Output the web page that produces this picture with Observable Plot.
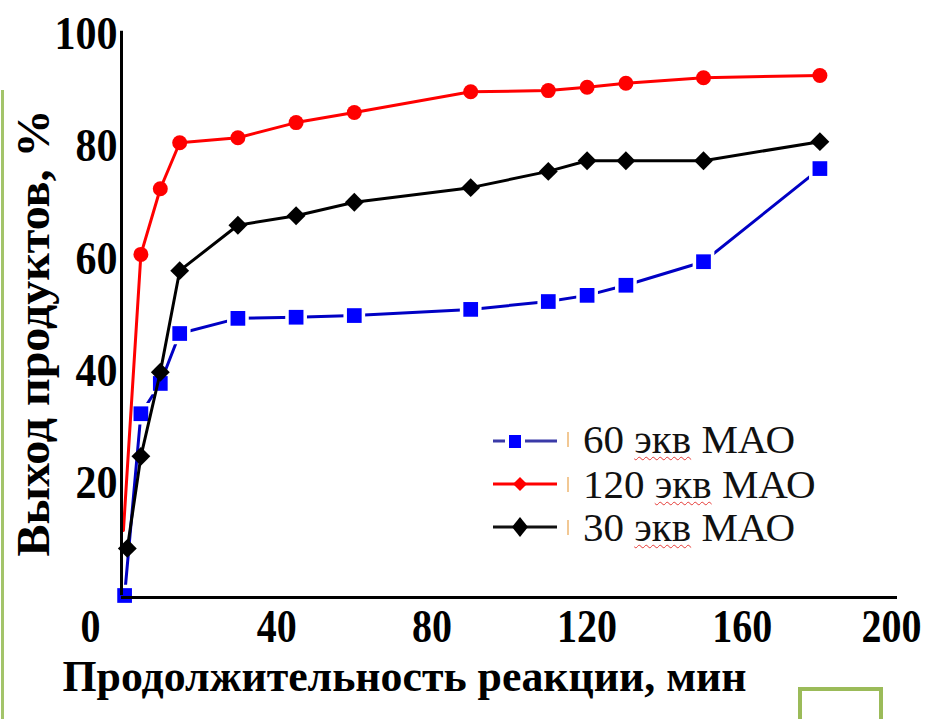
<!DOCTYPE html>
<html>
<head>
<meta charset="utf-8">
<script src="https://cdn.jsdelivr.net/npm/d3@7"></script>
<script src="https://cdn.jsdelivr.net/npm/@observablehq/plot@0.6"></script>
<style>
  html, body { margin: 0; padding: 0; background: #ffffff; overflow: hidden; }
  #wrap { position: relative; width: 933px; height: 719px; }
  .legrow { position: absolute; left: 490px; height: 44px; display: flex; align-items: center;
            font-family: "Liberation Serif", serif; font-size: 41px; color: #111; white-space: nowrap; }
  .legrow .tick { width: 2px; height: 15px; background: #f2c894; margin: 0 14px 0 2px; }
  .wavy { text-decoration: underline wavy #e53935; text-decoration-thickness: 1px; text-underline-offset: 3px; }
</style>
</head>
<body>
<div id="wrap"></div>
<script>
// ---- data ----
const blueT  = [0.8, 5, 10, 15, 30, 45, 60, 90, 110, 120, 130, 150, 180];
const blueV  = [0, 32.4, 37.8, 46.7, 49.4, 49.6, 49.9, 51.0, 52.4, 53.5, 55.3, 59.5, 76.1];
const redT   = [0.5, 5, 10, 15, 30, 45, 60, 90, 110, 120, 130, 150, 180];
const redV   = [11.6, 60.8, 72.5, 80.7, 81.6, 84.3, 86.1, 89.8, 90.0, 90.6, 91.3, 92.3, 92.7];
const blackT = [1.5, 5, 10, 15, 30, 45, 60, 90, 110, 120, 130, 150, 180];
const blackV = [8.4, 24.8, 39.8, 57.9, 66.0, 67.7, 70.1, 72.7, 75.6, 77.5, 77.5, 77.5, 80.9];

const seriesNames = ["60 экв МАО", "120 экв МАО", "30 экв МАО"];
const xTicks = [0, 40, 80, 120, 160, 200];
const yTicks = [20, 40, 60, 80, 100];
const xTitle = "Продолжительность реакции, мин";
const yTitle = "Выход продуктов, %";

const toRows = (T, V) => T.map((t, i) => ({t, v: V[i]}));
const blue = toRows(blueT, blueV);
const red = toRows(redT, redV);
const black = toRows(blackT, blackV);

const font = "'Liberation Serif', serif";

const chart = Plot.plot({
  width: 933,
  height: 719,
  marginLeft: 121,
  marginRight: 36,
  marginTop: 34,
  marginBottom: 124,
  x: {domain: [0, 200]},
  y: {domain: [0, 100]},
  style: {fontFamily: font, background: "transparent", color: "#000"},
  marks: [
    Plot.axisY(yTicks, {tickSize: 0, tickPadding: 4, fontSize: 46, fontWeight: "bold", label: null}),
    Plot.axisX(xTicks.slice(1, -1), {tickSize: 0, tickPadding: 14, fontSize: 46, fontWeight: "bold", label: null}),
    Plot.axisX(xTicks.slice(-1), {tickSize: 0, tickPadding: 14, fontSize: 46, fontWeight: "bold", label: null, dx: -6}),
    Plot.axisX(xTicks.slice(0, 1), {tickSize: 0, tickPadding: 14, fontSize: 46, fontWeight: "bold", label: null, dx: -31}),
    // blue (60 экв)
    Plot.line(blue, {x: "t", y: "v", stroke: "#0000c4", strokeWidth: 3}),
    Plot.dot(blue, {x: "t", y: "v", symbol: "square", r: 8.3, fill: "#0000ff", stroke: "#ffffff", strokeWidth: 7, paintOrder: "stroke"}),
    // red (120 экв)
    Plot.line(red, {x: "t", y: "v", stroke: "#ff0000", strokeWidth: 3}),
    Plot.dot(red.slice(1), {x: "t", y: "v", r: 7.5, fill: "#ff0000", stroke: "none"}),
    // black (30 экв)
    Plot.line(black, {x: "t", y: "v", stroke: "#000000", strokeWidth: 3}),
    Plot.dot(black, {x: "t", y: "v", symbol: "diamond2", r: 8.5, fill: "#000000", stroke: "none"}),
    // axis lines
    Plot.ruleX([0], {y1: 0, y2: 100.6, strokeWidth: 3, stroke: "#000"}),
    Plot.ruleY([0], {strokeWidth: 3, stroke: "#000", dy: 2}),
    // titles
    Plot.text([xTitle], {frameAnchor: "bottom-left", text: d => d, textAnchor: "start", lineAnchor: "bottom",
      dx: -59, dy: 95, fontSize: 44, fontWeight: "bold", fill: "#000"}),
    Plot.text([yTitle], {frameAnchor: "left", text: d => d, rotate: -90, textAnchor: "middle", lineAnchor: "middle",
      dx: -87, dy: 18, fontSize: 46, fontWeight: "bold", fill: "#000"})
  ]
});

const wrap = document.getElementById("wrap");
wrap.appendChild(chart);

// condensed tick labels & title widths
const sel = d3.select(chart);
sel.selectAll('g[aria-label="y-axis tick label"] text').each(function() {
  this.setAttribute("textLength", this.textContent.length * 21);
  this.setAttribute("lengthAdjust", "spacingAndGlyphs");
});
sel.selectAll('g[aria-label="x-axis tick label"] text').each(function() {
  this.setAttribute("textLength", this.textContent.length * 20);
  this.setAttribute("lengthAdjust", "spacingAndGlyphs");
});
sel.selectAll('g[aria-label="text"] text').each(function() {
  const s = this.textContent;
  if (s === xTitle) { this.setAttribute("textLength", 684); this.setAttribute("lengthAdjust", "spacingAndGlyphs"); }
  if (s === yTitle) { this.setAttribute("textLength", 447); this.setAttribute("lengthAdjust", "spacingAndGlyphs"); }
});
d3.select(chart).style("position", "absolute").style("left", "0px").style("top", "0px");

// ---- legend (inside plot area, lower right) ----
const legendTops = [417, 462, 505];
const swatches = [
  `<line x1="3" y1="22" x2="67" y2="22" stroke="#3a3aa8" stroke-width="3"/>
   <rect x="15" y="14" width="20" height="16" fill="#fff"/>
   <rect x="19" y="16" width="12" height="13" fill="#0000ff"/>`,
  `<line x1="3" y1="20" x2="67" y2="20" stroke="#ff0000" stroke-width="3"/>
   <path d="M30,13 L37,20 L30,27 L23,20 Z" fill="#ff0000"/>`,
  `<line x1="3" y1="20" x2="67" y2="20" stroke="#111" stroke-width="3"/>
   <path d="M30,10 L38,20 L30,30 L22,20 Z" fill="#000"/>`
];
seriesNames.forEach((name, i) => {
  const row = document.createElement("div");
  row.className = "legrow";
  row.style.top = legendTops[i] + "px";
  const parts = name.split(" ");
  row.innerHTML = `<svg width="75" height="40" style="flex:none">${swatches[i]}</svg>` +
    `<span class="tick"></span>` +
    `<span>${parts[0]} <span class="wavy">${parts[1]}</span> ${parts[2]}</span>`;
  wrap.appendChild(row);
});

// ---- slide decorations (green frame pieces) ----
const lineDeco = document.createElement("div");
lineDeco.style.cssText = "position:absolute;left:1px;top:90px;width:3px;height:629px;background:#a3c46a;";
wrap.appendChild(lineDeco);
const boxDeco = document.createElement("div");
boxDeco.style.cssText = "position:absolute;left:798px;top:687px;width:85px;height:45px;border:4px solid #9bbb59;box-sizing:border-box;";
wrap.appendChild(boxDeco);
</script>
</body>
</html>
